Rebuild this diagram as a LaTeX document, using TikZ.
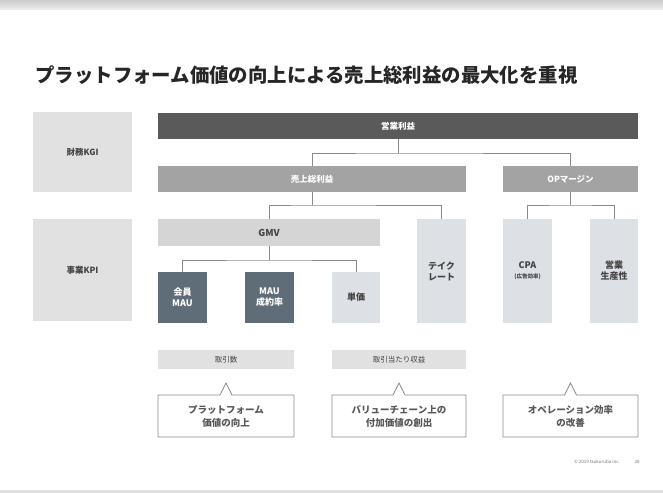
\documentclass[tikz,border=0pt]{standalone}
\usepackage{fontspec}
\setmainfont{Noto Sans CJK JP}
\usetikzlibrary{shapes.callouts}

\definecolor{inkdark}{HTML}{444444}
\definecolor{barblack}{HTML}{5A5A5A}
\definecolor{bargray}{HTML}{A3A3A3}
\definecolor{barlight}{HTML}{D5D5D5}
\definecolor{slate}{HTML}{5E6D78}
\definecolor{pale}{HTML}{DDE0E4}
\definecolor{tag}{HTML}{E1E1E1}
\definecolor{wire}{HTML}{8A8A8A}

\begin{document}
\begin{tikzpicture}[
  x=1pt, y=-1pt,
  font=\fontsize{8.5}{10.5}\selectfont,
  box/.style={
    inner sep=0pt, align=center, outer sep=0pt
  },
  side/.style={box, fill=tag, text=inkdark, font=\fontsize{8.5}{10}\selectfont\bfseries},
  kgi/.style={box, text=white, font=\fontsize{8.5}{10}\selectfont\bfseries},
  metric/.style={box, fill=slate, text=white, minimum width=49, minimum height=51,
                 font=\fontsize{9}{11}\selectfont\bfseries},
  leaf/.style={box, fill=pale, text=inkdark, minimum width=49,
               font=\fontsize{9}{11}\selectfont\bfseries},
  tagbox/.style={box, fill=tag, text=inkdark, minimum height=19,
                 font=\fontsize{7.5}{9}\selectfont},
  note/.style={rectangle callout, draw=wire, line width=0.8pt, fill=white,
               inner sep=0pt, align=center, minimum height=42,
               callout pointer width=12, text=black!65,
               font=\fontsize{9.5}{13}\selectfont\bfseries},
  link/.style={draw=wire, line width=0.8pt},
]
\useasboundingbox (0,0) rectangle (663,493);

% ---- page frame ---------------------------------------------------------
\shade[top color=black!20, bottom color=black!8] (0,0) rectangle (663,9);
\fill[black!12] (0,490) rectangle (663,493);

\node[anchor=west, font=\fontsize{19.4}{22}\selectfont\bfseries, text=black!85]
  (title) at (32,75) {プラットフォーム価値の向上による売上総利益の最大化を重視};

% ---- row labels ---------------------------------------------------------
\node[side, minimum width=99, minimum height=80]  (kgi)  at (82.5,152) {財務KGI};
\node[side, minimum width=99, minimum height=102] (kpi)  at (82.5,270) {事業KPI};

% ---- financial KGI ------------------------------------------------------
\node[kgi, fill=barblack, minimum width=480, minimum height=26] (op)  at (398,126)   {営業利益};
\node[kgi, fill=bargray,  minimum width=308, minimum height=26] (gp)  at (312,179)   {売上総利益};
\node[kgi, fill=bargray,  minimum width=135, minimum height=26] (opm) at (570.5,179) {OPマージン};

\coordinate (opsplit) at (398,153);
\draw[link] (op.south) -- (opsplit);
\draw[link] (gp.north) |- (opsplit) -| (opm.north);

% ---- business KPI -------------------------------------------------------
\node[box, fill=barlight, text=inkdark, minimum width=222, minimum height=27,
      font=\fontsize{9.5}{11}\selectfont\bfseries] (gmv) at (269,232.5) {GMV};
\node[leaf, minimum height=104] (take) at (441.5,271) {テイク\\レート};
\node[leaf, minimum height=104] (cpa)  at (527.5,271)
  {CPA\\[-1pt]{\fontsize{5.5}{7}\selectfont (広告効率)}};
\node[leaf, minimum height=104, minimum width=48] (prod) at (614,271) {営業\\生産性};

\coordinate (gpsplit)  at (312,205);
\coordinate (opmsplit) at (570.5,205);
\draw[link] (gp.south) -- (gpsplit);
\draw[link] (gmv.north) |- (gpsplit) -| (take.north);
\draw[link] (opm.south) -- (opmsplit);
\draw[link] (cpa.north) |- (opmsplit) -| (prod.north);

\node[metric] (mau)   at (182.5,297.5) {会員\\MAU};
\node[metric] (cvr)   at (269.5,297.5) {MAU\\成約率};
\node[leaf, minimum height=51, minimum width=48] (price) at (356,297.5) {単価};

\coordinate (gmvsplit) at (269,260);
\draw[link] (gmv.south) -- (gmvsplit);
\draw[link] (mau.north) |- (gmvsplit) -| (price.north);

% ---- drivers and notes --------------------------------------------------
\node[tagbox, minimum width=136] (txn) at (226,359.5) {取引数};
\node[tagbox, minimum width=134] (rev) at (399,359.5) {取引当たり収益};

\node[note, minimum width=136, callout absolute pointer={(226,383)}]
  (platform) at (226,416) {プラットフォーム\\価値の向上};
\node[note, minimum width=134, callout absolute pointer={(399,383)}]
  (chain) at (399,416) {バリューチェーン上の\\付加価値の創出};
\node[note, minimum width=135, callout absolute pointer={(570.5,383)}]
  (ops) at (570.5,416) {オペレーション効率\\の改善};

% ---- footer -------------------------------------------------------------
\node[box, text=black!55, font=\fontsize{4.5}{5}\selectfont] (copy) at (597,462)
  {© 2019 tsukuruba inc.};
\node[box, text=black!55, font=\fontsize{4.5}{5}\selectfont] (page) at (637,462) {28};

\end{tikzpicture}
\end{document}
